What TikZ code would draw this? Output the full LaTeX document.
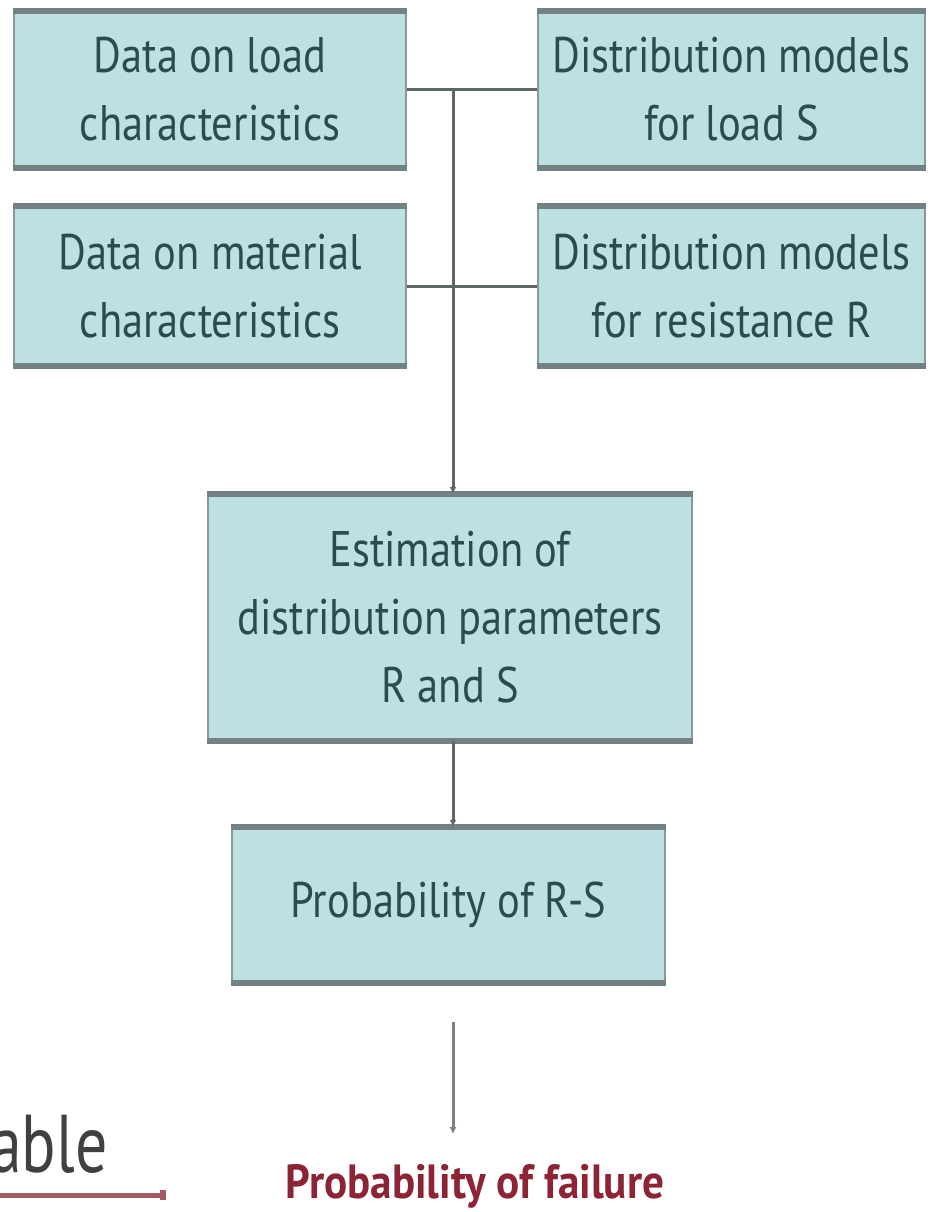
\documentclass[tikz,border=0pt]{standalone}
\usepackage{fontspec}
\setmainfont{PT Sans}
\newfontfamily\condfont{PT Sans}[FakeStretch=0.85]
\newfontfamily\failfont{PT Sans}[FakeStretch=0.9]
\newfontfamily\ablefont{PT Sans}[FakeStretch=0.78]
\usetikzlibrary{arrows.meta}
\definecolor{boxfill}{HTML}{BEE0E2}
\definecolor{boxline}{HTML}{86989A}
\definecolor{boxrule}{HTML}{728284}
\definecolor{txt}{HTML}{2C4A50}
\definecolor{conn}{HTML}{5E6666}
\definecolor{failred}{HTML}{8C2436}
\definecolor{arrred}{HTML}{A45A66}
\begin{document}
\begin{tikzpicture}[x=1pt,y=-1pt,
  box/.style={draw=boxline, fill=boxfill, line width=2.5pt, inner sep=0pt, align=center,
    font=\condfont\fontsize{50}{68}\selectfont, text=txt},
  boxrule/.style={draw=boxrule, line width=6pt},
  link/.style={draw=conn, line width=3pt},
  tipped/.style={-{Latex[length=7pt,width=7pt]}}]
\useasboundingbox (0,0) rectangle (932,1212);
\node[box, minimum width=392pt, minimum height=155pt] (A) at (210,89.5) {Data on load\\characteristics};
\node[box, minimum width=387pt, minimum height=155pt] (B) at (731.5,89.5) {Distribution models\\for load S};
\node[box, minimum width=392pt, minimum height=158pt] (C) at (210,286) {Data on material\\characteristics};
\node[box, minimum width=387pt, minimum height=158pt] (D) at (731.5,286) {Distribution models\\for resistance R};
\node[box, minimum width=484pt, minimum height=245pt] (E) at (450,617.5) {Estimation of\\distribution parameters\\R and S};
\node[box, minimum width=433pt, minimum height=154pt] (F) at (448.5,905) {Probability of R-S};
\foreach \n in {A,B,C,D,E,F}{
  \draw[boxrule] (\n.north west) -- (\n.north east);
  \draw[boxrule] (\n.south west) -- (\n.south east);
}
\draw[link] (A) -- (B);
\draw[link] (C) -- (D);
\coordinate (j1) at (453,89.5);
\draw[link, tipped] (j1) -- (j1 |- E.north);
\draw[link, tipped] (E.south -| j1) -- (F.north -| j1);
\coordinate (p1) at (453,1022);
\coordinate (p2) at (453,1134);
\draw[link, draw=gray, tipped] (p1) -- (p2);
\node[text=failred, font=\failfont\bfseries\fontsize{48}{54}\selectfont] (fail) at (475,1186) {Probability of failure};
\node[anchor=base west, text=black!75, inner sep=0pt, font=\ablefont\fontsize{82}{90}\selectfont] (able) at (-10,1172) {able};
\coordinate (r1) at (0,1195);
\coordinate (r2) at (166,1195);
\draw[arrred, line width=5pt, -{Rectangle[length=6pt,width=10pt,fill=failred]}] (r1) -- (r2);
\end{tikzpicture}
\end{document}
